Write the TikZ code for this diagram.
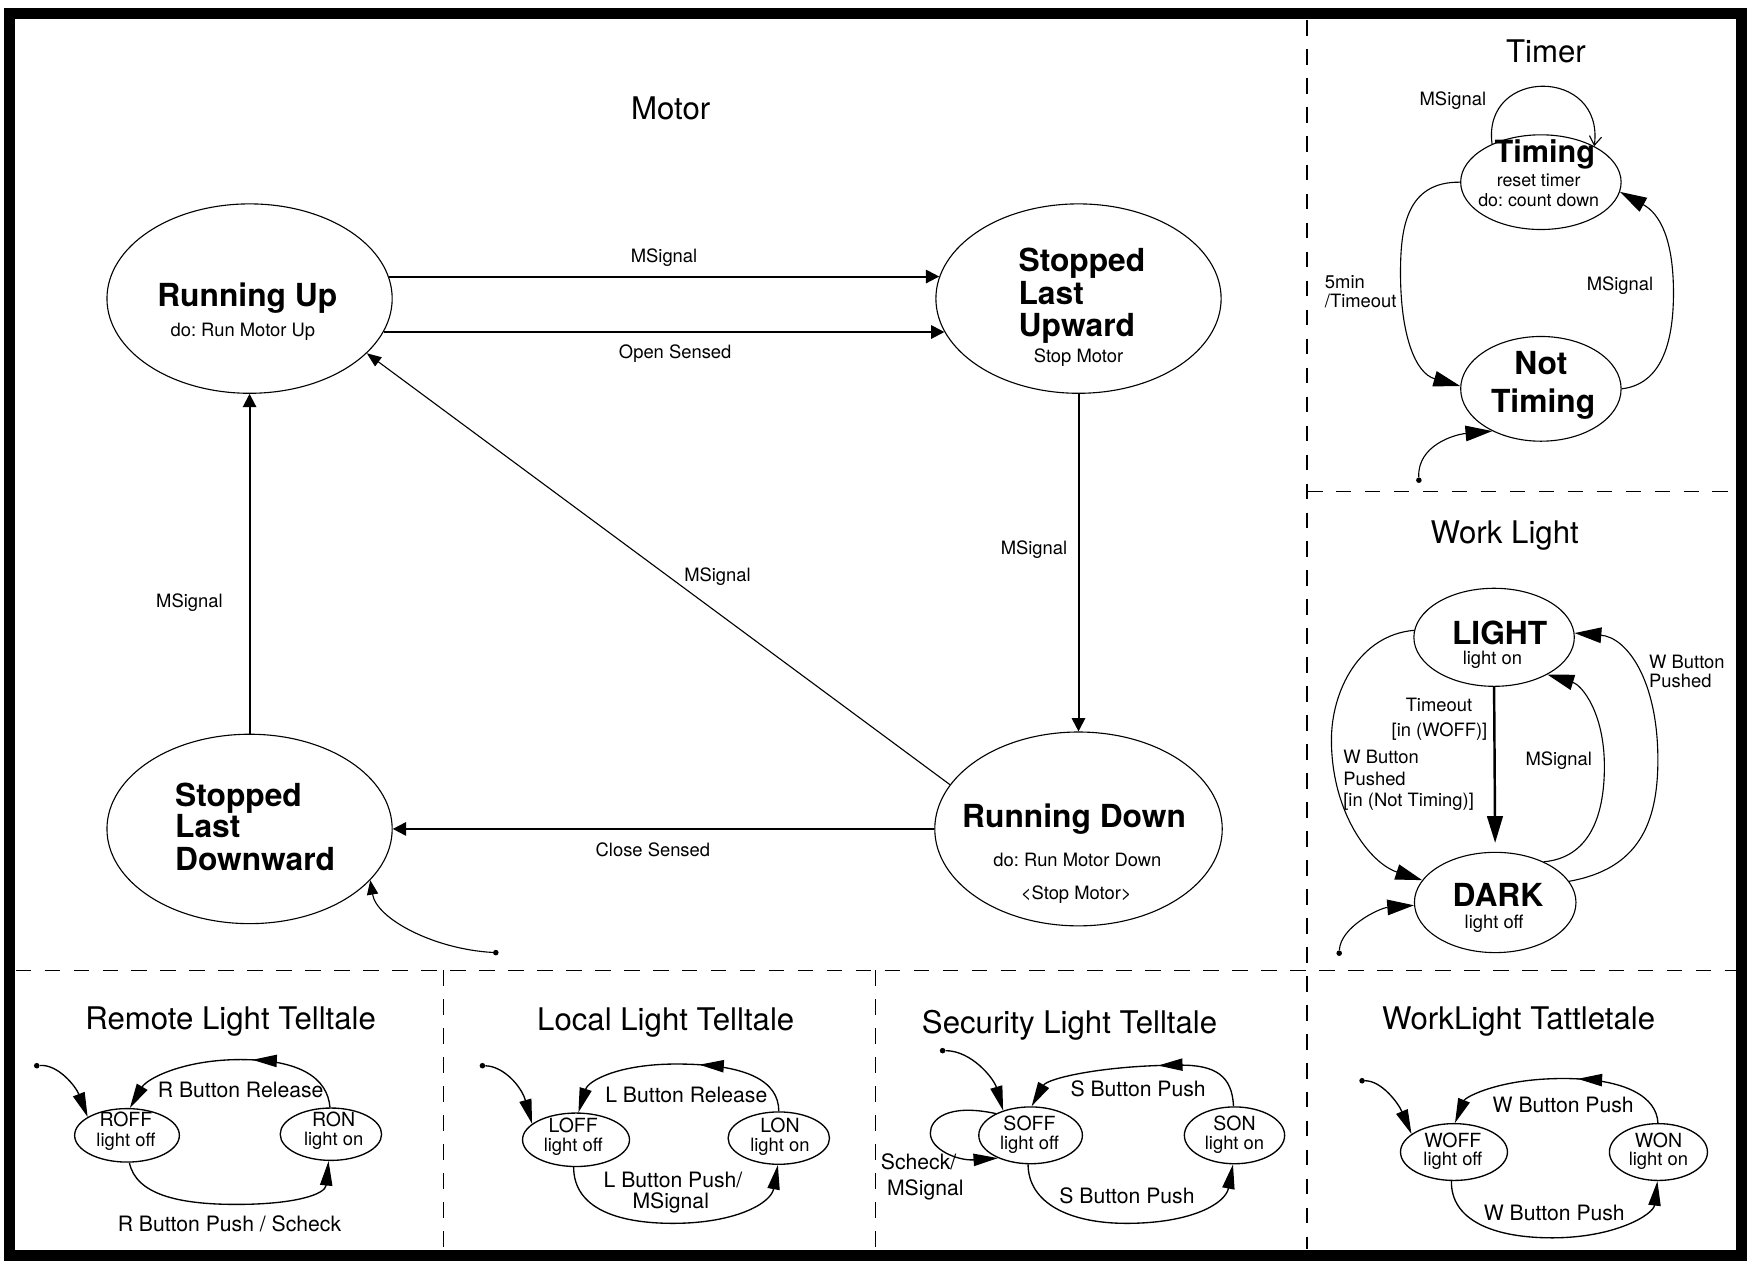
\documentclass[tikz,border=0pt]{standalone}
\usepackage{fontspec}
\setmainfont{TeX Gyre Heros}
\frenchspacing
\usetikzlibrary{arrows.meta,shapes.geometric,decorations.markings}
\begin{document}
\frenchspacing
\begin{tikzpicture}[x=1pt,y=-1pt,
  st/.style={draw, ellipse, inner sep=0pt, line width=1pt},
  bst/.style={draw, ellipse, inner sep=0pt, line width=1.2pt},
  ttl/.style={inner sep=0pt, font=\fontsize{28}{30}\selectfont},
  bname/.style={inner sep=0pt, font=\fontsize{28.5}{30}\selectfont\bfseries},
  lbl/.style={inner sep=0pt, font=\fontsize{16.5}{18}\selectfont},
  blbl/.style={inner sep=0pt, font=\fontsize{19}{21}\selectfont},
  sname/.style={inner sep=0pt, font=\fontsize{17.5}{19}\selectfont},
  divider/.style={line width=1.2pt, dash pattern=on 14pt off 12pt},
  marr/.style={line width=1.8pt, -{Triangle[length=12pt,width=12pt]}},
  darr/.style={line width=1pt, -{Triangle[length=13pt,width=10pt]}},
  tarr/.style={line width=1pt, -{Triangle[length=24pt,width=14pt]}},
  barr/.style={line width=1.2pt, -{Triangle[length=22pt,width=11pt]}},
  midarr/.style={postaction={decorate}, decoration={markings,
      mark=at position #1 with {\arrow{Triangle[length=22pt,width=11pt]}}}},
  dot/.style={fill, circle, inner sep=0pt, minimum size=5pt}
]
\useasboundingbox (0,0) rectangle (1568,1131);
% frame
\draw[line width=10pt] (8.5,12.5) rectangle (1563,1126.5);
% dividers
\draw[divider] (1173,18) -- (1173,1121);
\draw[divider] (14,871) -- (1558,871);
\draw[divider] (1173,441) -- (1558,441);
\draw[divider] (398,871) -- (398,1121);
\draw[divider] (786,871) -- (786,1121);

%================ MOTOR ================
\node[ttl] (motorT) at (602,97) {Motor};
\node[st, minimum width=256pt, minimum height=170pt] (ru) at (224,268) {};
\node[st, minimum width=256pt, minimum height=170pt] (slu) at (968,268) {};
\node[st, minimum width=258pt, minimum height=174pt] (rd) at (968,744) {};
\node[st, minimum width=256pt, minimum height=170pt] (sld) at (224,744) {};

\node[bname] (ruT) at (222,267.5) {Running Up};
\node[lbl] (ruD) at (218,298) {do: Run Motor Up};
\node[bname, anchor=base west] (sluT1) at (914,244) {Stopped};
\node[bname, anchor=base west] (sluT2) at (914,273) {Last};
\node[bname, anchor=base west] (sluT3) at (914,302) {Upward};
\node[lbl] (sluD) at (968,321) {Stop Motor};
\node[bname] (rdT) at (964,735) {Running Down};
\node[lbl] (rdD1) at (967,772) {do: Run Motor Down};
\node[lbl] (rdD2) at (966,803) {\textless Stop Motor\textgreater};
\node[bname, anchor=base west] (sldT1) at (157,723.5) {Stopped};
\node[bname, anchor=base west] (sldT2) at (157,752) {Last};
\node[bname, anchor=base west] (sldT3) at (157,781.5) {Downward};

\draw[marr] (ru.9) -- (slu.171);
\draw[marr] (ru.-14.3) -- (slu.194.3);
\draw[marr] (slu.south) -- (rd.north);
\draw[marr] (rd.west) -- (sld.east);
\draw[marr] (sld.north) -- (ru.south);
\draw[darr] (rd.161) -- (ru.-25);
\node[dot] (mdot) at (445,855) {};
\draw[darr] (mdot) .. controls (390,852) and (338,825) .. (sld.-23);

\node[lbl] (l1) at (596,231) {MSignal};
\node[lbl] (l2) at (606,317) {Open Sensed};
\node[lbl] (l3) at (644,518) {MSignal};
\node[lbl] (l4) at (170,541) {MSignal};
\node[lbl] (l5) at (928,493) {MSignal};
\node[lbl] (l6) at (586,763) {Close Sensed};

%================ TIMER ================
\node[ttl] (timerT) at (1387.5,46) {Timer};
\node[st, minimum width=144pt, minimum height=85pt] (tm) at (1383,163.5) {};
\node[st, minimum width=144pt, minimum height=94pt] (nt) at (1383,349) {};
\node[inner sep=0pt, font=\fontsize{27.5}{29}\selectfont\bfseries] (tmT) at (1386.5,138.5) {Timing};
\node[inner sep=0pt, font=\fontsize{16}{18}\selectfont] (tmD1) at (1381,162) {reset timer};
\node[inner sep=0pt, font=\fontsize{16}{18}\selectfont] (tmD2) at (1381,179.5) {do: count down};
\node[bname] (ntT1) at (1383,326) {Not};
\node[bname] (ntT2) at (1385,363) {Timing};

\draw[line width=1pt, -{Straight Barb[length=8pt,width=11pt]}] (tm.142) .. controls (1330,60) and (1440,60) .. (tm.34);
\draw[tarr] (tm.180) .. controls (1262,163) and (1257,205) .. (1257,245) .. controls (1257,300) and (1270,335) .. (nt.178);
\draw[tarr] (nt.0) .. controls (1490,345) and (1502,310) .. (1502,263) .. controls (1502,215) and (1490,192) .. (tm.-7);
\node[dot] (tdot) at (1273.5,431) {};
\draw[tarr] (tdot) .. controls (1272,400) and (1305,390) .. (nt.221);

\node[lbl] (tl1) at (1304,90) {MSignal};
\node[lbl, anchor=west] (tl2) at (1189,253) {5min};
\node[lbl, anchor=west] (tl3) at (1189,270) {/Timeout};
\node[lbl] (tl4) at (1454,256.5) {MSignal};

%================ WORK LIGHT ================
\node[ttl] (wlT) at (1350.5,481) {Work Light};
\node[st, minimum width=144pt, minimum height=88pt] (lt) at (1341,572) {};
\node[st, minimum width=145pt, minimum height=90pt] (dk) at (1342,810) {};
\node[bname] (ltT) at (1346,568) {LIGHT};
\node[lbl] (ltD) at (1339.5,592) {light on};
\node[bname] (dkT) at (1344.5,803) {DARK};
\node[lbl] (dkD) at (1341,829) {light off};

\draw[tarr, line width=2.2pt, shorten >=8pt] (lt.south) -- (dk.north);
\draw[tarr] (lt.175) .. controls (1220,570) and (1195,620) .. (1195,664) .. controls (1195,730) and (1230,775) .. (dk.163);
\draw[tarr] (dk.40) .. controls (1425,770) and (1440,735) .. (1440,688) .. controls (1440,640) and (1420,615) .. (lt.-35);
\draw[tarr] (dk.16) .. controls (1470,780) and (1488,740) .. (1488,682) .. controls (1488,610) and (1460,572) .. (lt.3);
\node[dot] (wdot) at (1202,855.5) {};
\draw[tarr] (wdot) .. controls (1203,832) and (1238,815) .. (dk.182);

\node[lbl] (wl1) at (1291.5,633) {Timeout};
\node[lbl] (wl2) at (1292,657) {[in (WOFF)]};
\node[lbl, anchor=west] (wl3) at (1205.5,679.5) {W Button};
\node[lbl, anchor=west] (wl4) at (1205.5,699) {Pushed};
\node[lbl, anchor=west] (wl5) at (1205.5,719.5) {[in (Not Timing)]};
\node[lbl] (wl6) at (1399,682.5) {MSignal};
\node[lbl, anchor=west] (wl7) at (1480,594) {W Button};
\node[lbl, anchor=west] (wl8) at (1480,611) {Pushed};

%================ REMOTE LIGHT TELLTALE ================
\node[ttl] (rT) at (207,917) {Remote Light Telltale};
\node[bst, minimum width=94pt, minimum height=48pt] (roff) at (114,1019) {};
\node[bst, minimum width=91pt, minimum height=47pt] (ron) at (297,1018) {};
\node[sname] (roffT) at (113,1005) {ROFF};
\node[lbl] (roffD) at (113,1024.5) {light off};
\node[sname] (ronT) at (299.5,1005) {RON};
\node[lbl] (ronD) at (299.5,1023.5) {light on};
\draw[barr, midarr=0.42] (ron.92) .. controls (294,968) and (270,951) .. (216,951) .. controls (165,951) and (132,968) .. (roff.84);
\draw[barr] (roff.-85) .. controls (122,1072) and (160,1081) .. (212,1081) .. controls (265,1081) and (292,1072) .. (ron.-95);
\node[dot] (rdot) at (33,956.5) {};
\draw[barr] (rdot) .. controls (52,955) and (68,975) .. (roff.155);
\node[blbl] (rl1) at (216,978) {R Button Release};
\node[blbl] (rl2) at (206,1098) {R Button Push / Scheck};

%================ LOCAL LIGHT TELLTALE ================
\node[ttl] (lT) at (597.5,918) {Local Light Telltale};
\node[bst, minimum width=96pt, minimum height=48pt] (loff) at (517,1023) {};
\node[bst, minimum width=91pt, minimum height=47pt] (lon) at (699,1021.5) {};
\node[sname] (loffT) at (514.5,1010) {LOFF};
\node[lbl] (loffD) at (514.5,1029) {light off};
\node[sname] (lonT) at (700,1010) {LON};
\node[lbl] (lonD) at (700,1029) {light on};
\draw[barr, midarr=0.42] (lon.90) .. controls (699,970) and (670,955) .. (607,955) .. controls (555,955) and (528,970) .. (loff.85);
\draw[barr] (loff.-95) .. controls (515,1085) and (555,1098) .. (604,1098) .. controls (660,1098) and (692,1080) .. (lon.-92);
\node[dot] (ldot) at (433,956.5) {};
\draw[barr] (ldot) .. controls (452,957) and (468,975) .. (loff.160);
\node[blbl] (ll1) at (616,983) {L Button Release};
\node[blbl] (ll2) at (604,1059) {L Button Push/};
\node[blbl] (ll3) at (602,1079.5) {MSignal};

%================ SECURITY LIGHT TELLTALE ================
\node[ttl] (sT) at (960,920) {Security Light Telltale};
\node[bst, minimum width=93pt, minimum height=51pt] (soff) at (925,1019) {};
\node[bst, minimum width=90pt, minimum height=51pt] (son) at (1108,1019) {};
\node[sname] (soffT) at (924,1008.5) {SOFF};
\node[lbl] (soffD) at (924,1027.5) {light off};
\node[sname] (sonT) at (1108,1008.5) {SON};
\node[lbl] (sonD) at (1108,1027.5) {light on};
\draw[barr, midarr=0.42] (son.92) .. controls (1106,965) and (1090,956) .. (1060,956) .. controls (990,956) and (940,968) .. (soff.88);
\draw[barr] (soff.-95) .. controls (923,1080) and (960,1098) .. (1011,1098) .. controls (1070,1098) and (1100,1080) .. (son.-93);
\draw[barr] (soff.148) .. controls (850,990) and (835,1005) .. (835,1017) .. controls (835,1032) and (860,1042) .. (soff.215);
\node[dot] (sdot) at (846,943) {};
\draw[barr] (sdot) .. controls (872,943) and (892,968) .. (soff.138);
\node[blbl] (sl1) at (1021.5,977) {S Button Push};
\node[blbl] (sl2) at (1011.5,1073.5) {S Button Push};
\node[blbl, anchor=west] (sl3) at (790.5,1042.5) {Scheck/};
\node[blbl, anchor=west] (sl4) at (796,1068) {MSignal};

%================ WORKLIGHT TATTLETALE ================
\node[ttl] (wT) at (1363,917) {WorkLight Tattletale};
\node[bst, minimum width=96pt, minimum height=51pt] (woff) at (1305,1034) {};
\node[bst, minimum width=88pt, minimum height=51pt] (won) at (1488.5,1034) {};
\node[sname] (woffT) at (1304,1023.5) {WOFF};
\node[lbl] (woffD) at (1304,1042) {light off};
\node[sname] (wonT) at (1488.5,1023.5) {WON};
\node[lbl] (wonD) at (1488.5,1042) {light on};
\draw[barr, midarr=0.42] (won.91) .. controls (1487,985) and (1460,968) .. (1403,968) .. controls (1345,968) and (1315,985) .. (woff.88);
\draw[barr] (woff.-95) .. controls (1302,1095) and (1340,1111) .. (1393,1111) .. controls (1450,1111) and (1484,1090) .. (won.-92);
\node[dot] (wdot2) at (1222.5,970) {};
\draw[barr] (wdot2) .. controls (1240,970) and (1255,990) .. (woff.157);
\node[blbl] (wt1) at (1403,992) {W Button Push};
\node[blbl] (wt2) at (1395,1089) {W Button Push};
\end{tikzpicture}
\end{document}
